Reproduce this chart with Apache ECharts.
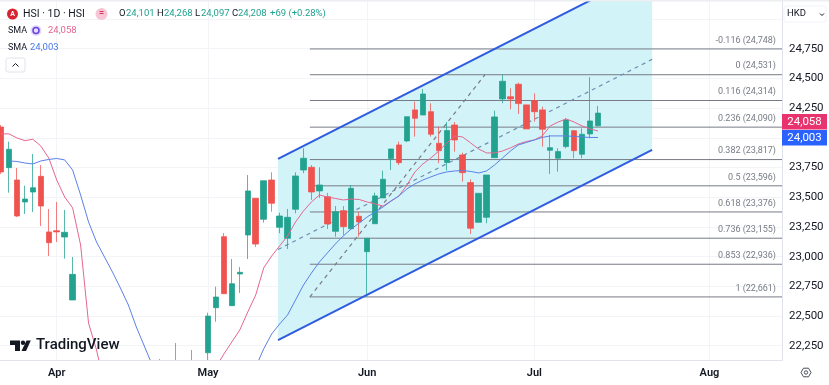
<!DOCTYPE html>
<html><head><meta charset="utf-8">
<style>html,body{margin:0;padding:0;background:#fff}#c{width:829px;height:385px}</style>
<script src="https://cdn.jsdelivr.net/npm/echarts@6/dist/echarts.min.js"></script>
</head><body><div id="c"></div>
<script>
const xTickIndex=[7,26,46,67,89];
const xTickLabels=['Apr','May','Jun','Jul','Aug'];
const yTickLabels=[22250,22500,22750,23000,23250,23500,23750,24250,24500,24750];
const yGridValues=[22250,22500,22750,23000,23250,23500,23750,24000,24250,24500,24750,25000];
// [session index, open, close, low, high]
const candles=[
[0,24091,23713,23696,24108],[1,23749,23904,23538,23968],[2,23645,23342,23334,23746],[3,23460,23485,23359,23597],
[4,23544,23580,23376,23864],[5,23676,23426,23258,23771],[6,23208,23117,23005,23401],[7,23218,23208,23123,23460],
[8,23165,23205,22983,23393],[9,22635,22851,22635,22997],
[20,21850,21750,21700,22138],[22,21850,21750,21700,22273],[24,21850,21750,21700,22214],
[26,22191,22500,22100,22528],[27,22570,22660,22452,22747],[28,23168,22688,22686,23199],[29,22587,22772,22587,22980],
[30,22854,22868,22694,22913],[31,23182,23553,22980,23687],[32,23491,23106,23081,23494],[33,23314,23639,23286,23639],
[34,23645,23449,23378,23710],[35,23247,23342,23197,23370],[36,23154,23331,23064,23401],[37,23399,23679,23365,23710],
[38,23729,23828,23702,23912],[39,23752,23544,23477,23771],[40,23553,23603,23494,23752],[41,23505,23275,23233,23536],
[42,23213,23378,23168,23426],[43,23387,23252,23182,23426],[44,23235,23575,23224,23603],[45,23340,23292,23168,23378],
[46,23042,23154,22661,23154],[47,23277,23511,23277,23538],[48,23494,23651,23494,23724],[49,23825,23906,23729,23906],
[50,23940,23791,23771,23968],[51,23974,24178,23963,24178],[52,24235,24165,24010,24304],[53,24192,24369,24192,24411],
[54,24220,24030,24010,24291],[55,23954,23892,23786,24094],[56,23792,24062,23725,24133],[57,24108,23982,23884,24133],
[58,23856,23707,23631,23875],[59,23623,23239,23191,23651],[60,23289,23533,23289,23533],[61,23331,23687,23281,23687],
[62,23833,24176,23833,24229],[63,24327,24476,24291,24531],[64,24346,24327,24240,24417],[65,24451,24288,24201,24464],
[66,24277,24075,24075,24277],[67,24313,24220,24136,24375],[68,24235,24072,23926,24262],[69,23895,23917,23696,24024],
[70,23828,23884,23715,23912],[71,23926,24150,23912,24165],[72,24060,23892,23828,24066],[73,23862,24030,23828,24080],
[74,24033,24142,23996,24510],[75,24101,24208,24097,24268]];
const smaPink=[24033,24033,23999,23976,23988,23931,23830,23645,23502,23410,23098,22440,22214,21920,21800,21650,21500,21400,21350,21300,21300,21350,21400,21500,21600,21700,21850,22071,22180,22282,22383,22534,22677,22905,23005,23090,23174,23292,23384,23460,23519,23502,23490,23477,23485,23481,23460,23443,23426,23468,23511,23603,23713,23780,23830,23889,23957,24016,24007,23957,23906,23873,23873,23889,23915,23948,23969,23982,24016,24100,24133,24159,24133,24100,24075,24058];
const smaBlue=[null,23805,23801,23788,23780,23805,23818,23826,23814,23729,23519,23292,23123,22997,22871,22736,22593,22408,22248,22088,21950,21850,21750,21650,21600,21550,21550,21600,21650,21750,21830,21920,22071,22223,22349,22433,22509,22635,22761,22862,22955,23031,23106,23174,23233,23283,23334,23376,23418,23468,23511,23570,23612,23645,23671,23696,23713,23721,23725,23717,23704,23721,23771,23830,23889,23940,23961,23982,24003,24016,24016,24016,24012,24007,24003,24003];
const fibRatios=['-0.116','0','0.116','0.236','0.382','0.5','0.618','0.736','0.853','1'];
const fibPrices=[24748,24531,24314,24090,23817,23596,23376,23155,22936,22661];
const fibStartIndex=38.8, axisStartIndex=-0.126, axisEndIndex=98.116;
const channelStart=34.8, channelEnd=81.8;
const channelUpper=[23822,25421];
const channelMiddle=[23060,24660];
const channelLower=[22298,23898];
const fibTrend=[[38.8,22661],[60.8,24531]];

const UP='#22a28f',DOWN='#ef5350',PINK='#e6668f',BLUE='#5b80e6',TXT='#131722',GREY='#787b86',CHAN='#2f5be0';
const F='Roboto, sans-serif';
const T=(x,y,text,fill,size,extra)=>({type:'text',silent:true,z:50,x,y,style:Object.assign({text,fill:fill||TXT,font:(size||9)+'px '+F,verticalAlign:'middle'},extra||{})});
const graphics=[
 {type:'rect',shape:{x:0,y:361,width:781.5,height:24},style:{fill:'#fff'},z:8,silent:true},
 {type:'rect',shape:{x:0,y:0,width:829,height:1.5},style:{fill:'#eceef2'},z:50,silent:true},
 {type:'circle',shape:{cx:12.5,cy:14,r:5.5},style:{fill:'#d9232e'},z:50,silent:true},
 T(12.5,14,'A','#fff',7,{align:'center',font:'bold 7px '+F}),
 T(23,14,'HSI · 1D · HSI',TXT,10.5),
 {type:'circle',shape:{cx:101.5,cy:14,r:6},style:{fill:'#f7c5d3'},z:50,silent:true},
 T(101.5,13.5,'=', '#d9345f',9,{align:'center',font:'bold 9px '+F}),
 T(119,14,'O',TXT,9.5),T(126,14,'24,101','#22a28f',9.5),
 T(157,14,'H',TXT,9.5),T(164,14,'24,268','#22a28f',9.5),
 T(195,14,'L',TXT,9.5),T(201,14,'24,097','#22a28f',9.5),
 T(232,14,'C',TXT,9.5),T(238,14,'24,208','#22a28f',9.5),
 T(270,14,'+69 (+0.28%)','#22a28f',9.5),
 T(8,30.5,'SMA',TXT,9),
 {type:'circle',shape:{cx:36,cy:30.5,r:5.5},style:{fill:'#e3dcfa'},z:50,silent:true},
 {type:'circle',shape:{cx:36,cy:30.5,r:3},style:{fill:'none',stroke:'#6a3fe0',lineWidth:1.5},z:50,silent:true},
 T(48,30.5,'24,058','#e6668f',9.5),
 T(8,47.5,'SMA',TXT,9),T(30,47.5,'24,003','#4a78e6',9.5),
 {type:'rect',shape:{x:6,y:58,width:19,height:14,r:2},style:{fill:'#fff',stroke:'#e0e3eb',lineWidth:1},z:50,silent:true},
 {type:'polyline',shape:{points:[[12.5,66.5],[15.5,63.5],[18.5,66.5]]},style:{stroke:TXT,lineWidth:1,fill:'none'},z:51,silent:true},
 // HKD box
 {type:'rect',shape:{x:784,y:6,width:42,height:16,r:2},style:{fill:'#fff',stroke:'#f0f3fa',lineWidth:1},z:50,silent:true},
 T(787,14,'HKD',TXT,9.5),
 {type:'polyline',shape:{points:[[820,13.5],[822,15.5],[824,13.5]]},style:{stroke:TXT,lineWidth:1,fill:'none'},z:51,silent:true},
 // price tags
 {type:'rect',shape:{x:782,y:114,width:45,height:15.5},style:{fill:'#e8336f'},z:50,silent:true},
 T(804.5,122,'24,058','#fff',11.5,{align:'center'}),
 {type:'rect',shape:{x:782,y:130,width:45,height:15.5},style:{fill:'#2962ff'},z:50,silent:true},
 T(804.5,138,'24,003','#fff',11.5,{align:'center'}),
 // gear
 {type:'polygon',shape:{points:[[811,372.5],[808.5,376.8],[803.5,376.8],[801,372.5],[803.5,368.2],[808.5,368.2]]},style:{fill:'none',stroke:'#4a4e5a',lineWidth:1},z:50,silent:true},
 {type:'circle',shape:{cx:806,cy:372.5,r:1.7},style:{fill:'none',stroke:'#4a4e5a',lineWidth:1},z:50,silent:true},
 // TradingView logo
 {type:'polygon',shape:{points:[[10,340.5],[20,340.5],[20,351],[15,351],[15,345],[10,345]]},style:{fill:'#131722'},z:50,silent:true},
 {type:'circle',shape:{cx:23,cy:342.7,r:2.2},style:{fill:'#131722'},z:50,silent:true},
 {type:'polygon',shape:{points:[[26.5,340.5],[30.8,340.5],[26,351],[21.5,351]]},style:{fill:'#131722'},z:50,silent:true},
 T(36,345.5,'TradingView','#131722',15,{font:'500 15px '+F})
];
const chart=echarts.init(document.getElementById('c'),null,{renderer:'canvas'});
const idx=a=>a.map((v,i)=>[i,v]);
chart.setOption({
 animation:false,backgroundColor:'#fff',
 grid:{left:0,right:47,top:0,bottom:25,containLabel:false},
 xAxis:[
  {type:'value',min:axisStartIndex,max:axisEndIndex,position:'bottom',
   axisLine:{show:false,onZero:false},axisTick:{show:false,customValues:xTickIndex},
   splitLine:{show:true,lineStyle:{color:'#f2f4f7'}},
   axisLabel:{show:false,customValues:xTickIndex}},
  {type:'value',z:10,min:axisStartIndex,max:axisEndIndex,position:'bottom',
   axisLine:{onZero:false,show:true,lineStyle:{color:'#e0e3eb'}},axisTick:{show:false,customValues:xTickIndex},
   splitLine:{show:false},
   axisLabel:{customValues:xTickIndex,margin:8,color:TXT,fontFamily:F,fontSize:11,fontWeight:600,
    formatter:v=>xTickLabels[xTickIndex.indexOf(Math.round(v))]||''}}
 ],
 yAxis:{type:'value',position:'right',min:22130,max:25160,scale:true,
  axisLine:{show:true,onZero:false,lineStyle:{color:'#e0e3eb'}},axisTick:{show:false,customValues:yGridValues},
  splitLine:{show:true,lineStyle:{color:'#f2f4f7'}},
  axisLabel:{customValues:yTickLabels,margin:7,color:TXT,fontFamily:F,fontSize:11.5,align:'left',
   formatter:v=>v.toLocaleString('en-US')}},
 series:[
  {type:'custom',z:1,clip:true,silent:true,data:[[channelStart,channelEnd]],renderItem:(p,api)=>{
    const c=[api.coord([channelStart,channelUpper[0]]),api.coord([channelEnd,channelUpper[1]]),
             api.coord([channelEnd,channelLower[1]]),api.coord([channelStart,channelLower[0]])];
    return {type:'polygon',shape:{points:c},style:{fill:'#d2f3f8'}};
  }},
  {type:'custom',z:2,clip:true,silent:true,data:fibPrices.map((v,i)=>[i,v]),renderItem:(p,api)=>{
    const i=api.value(0),v=api.value(1);
    const a=api.coord([fibStartIndex,v]),b=api.coord([axisEndIndex,v]);
    const prettyV=v.toLocaleString('en-US');
    return {type:'group',children:[
      {type:'line',shape:{x1:a[0],y1:a[1],x2:b[0],y2:b[1]},style:{stroke:GREY,lineWidth:1}},
      {type:'text',style:{x:b[0]-6,y:b[1]-8.5,text:fibRatios[i]+' ('+prettyV+')',fill:GREY,font:'9px '+F,align:'right',verticalAlign:'middle'}}
    ]};
  }},
  {type:'line',z:3,silent:true,symbol:'none',data:[[channelStart,channelMiddle[0]],[channelEnd,channelMiddle[1]]],lineStyle:{color:'#6f8fb0',width:1.2,type:[4,4]}},
  {type:'line',z:3,silent:true,symbol:'none',data:fibTrend,lineStyle:{color:GREY,width:1.2,type:[4,4]}},
  {type:'candlestick',z:4,silent:true,barWidth:6,data:candles,encode:{x:0,y:[1,2,3,4]},
   itemStyle:{color:UP,color0:DOWN,borderColor:'rgba(34,162,143,0.75)',borderColor0:'rgba(239,83,80,0.75)',borderWidth:1}},
  {type:'line',z:5,silent:true,symbol:'none',data:idx(smaPink),lineStyle:{color:PINK,width:1}},
  {type:'line',z:5,silent:true,symbol:'none',data:idx(smaBlue),lineStyle:{color:BLUE,width:1}},
  {type:'line',z:6,silent:true,symbol:'none',data:[[channelStart,channelUpper[0]],[channelEnd,channelUpper[1]]],lineStyle:{color:CHAN,width:2}},
  {type:'line',z:6,silent:true,symbol:'none',data:[[channelStart,channelLower[0]],[channelEnd,channelLower[1]]],lineStyle:{color:CHAN,width:2}}
 ],
 graphic:{elements:graphics}
});
</script></body></html>
